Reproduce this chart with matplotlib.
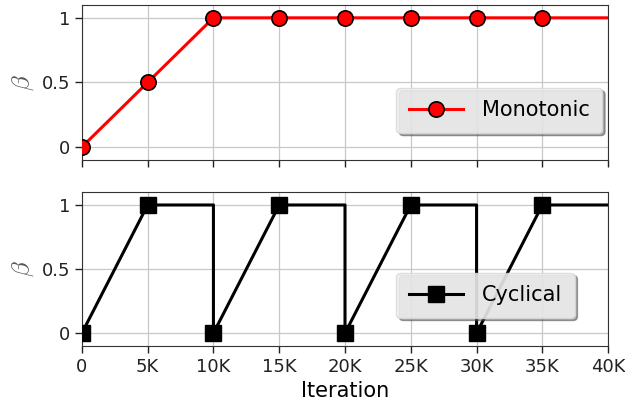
import matplotlib
matplotlib.use("Agg")
import matplotlib.pyplot as plt

# iterations and beta schedules
mono_x = [0, 5000, 10000, 15000, 20000, 25000, 30000, 35000, 40000]
mono_y = [0, 0.5, 1, 1, 1, 1, 1, 1, 1]
mono_marks = [0, 1, 2, 3, 4, 5, 6, 7]

cyc_x = [0, 5000, 10000, 10000, 15000, 20000, 20000, 25000, 30000, 30000, 35000, 40000]
cyc_y = [0, 1, 1, 0, 1, 1, 0, 1, 1, 0, 1, 1]
cyc_marks = [0, 1, 3, 4, 6, 7, 9, 10]

xticks = [0, 5000, 10000, 15000, 20000, 25000, 30000, 35000, 40000]
xticklabels = ["0", "5K", "10K", "15K", "20K", "25K", "30K", "35K", "40K"]
yticks = [0, 0.5, 1]
yticklabels = ["0", "0.5", "1"]

plt.rcParams["mathtext.fontset"] = "cm"
plt.rcParams["font.family"] = "DejaVu Sans"

fig = plt.figure(figsize=(6.25, 4.08), dpi=100)
ax1 = fig.add_axes([0.131, 0.608, 0.842, 0.380])
ax2 = fig.add_axes([0.131, 0.152, 0.842, 0.377])


def style(ax):
    ax.set_xlim(0, 40000)
    ax.set_ylim(-0.1, 1.1)
    ax.set_xticks(xticks)
    ax.set_yticks(yticks)
    ax.set_yticklabels(yticklabels, fontsize=13)
    ax.grid(True, color="#c8c8c8", linewidth=0.9)
    ax.set_axisbelow(True)
    ax.tick_params(direction="out", length=5, width=1, colors="#222222", labelcolor="#222222")
    ax.set_ylabel(r"$\beta$", fontsize=18, color="#555555", labelpad=4)
    for sp in ax.spines.values():
        sp.set_color("#333333")


style(ax1)
style(ax2)

ax1.plot(mono_x, mono_y, color="red", linewidth=2.2, marker="o", markersize=11,
         markerfacecolor="red", markeredgecolor="black", markeredgewidth=1.2,
         markevery=mono_marks, label="Monotonic", zorder=3)
ax1.set_xticklabels([])

ax2.plot(cyc_x, cyc_y, color="black", linewidth=2.2, marker="s", markersize=11,
         markerfacecolor="black", markeredgecolor="black",
         markevery=cyc_marks, label="Cyclical", zorder=3)
ax2.set_xticklabels(xticklabels, fontsize=13)
ax2.set_xlabel("Iteration", fontsize=15, labelpad=4)

for ax, yc in [(ax1, 0.32), (ax2, 0.33)]:
    leg = ax.legend(loc="center left", bbox_to_anchor=(0.578, yc), fontsize=15,
                    shadow=True, fancybox=True, framealpha=0.85,
                    handlelength=2.6, handletextpad=0.9, borderpad=0.6)
    leg.get_frame().set_facecolor("#f2f2f2")
    leg.get_frame().set_edgecolor("#d8d8d8")

fig.savefig("out.png", dpi=100)
